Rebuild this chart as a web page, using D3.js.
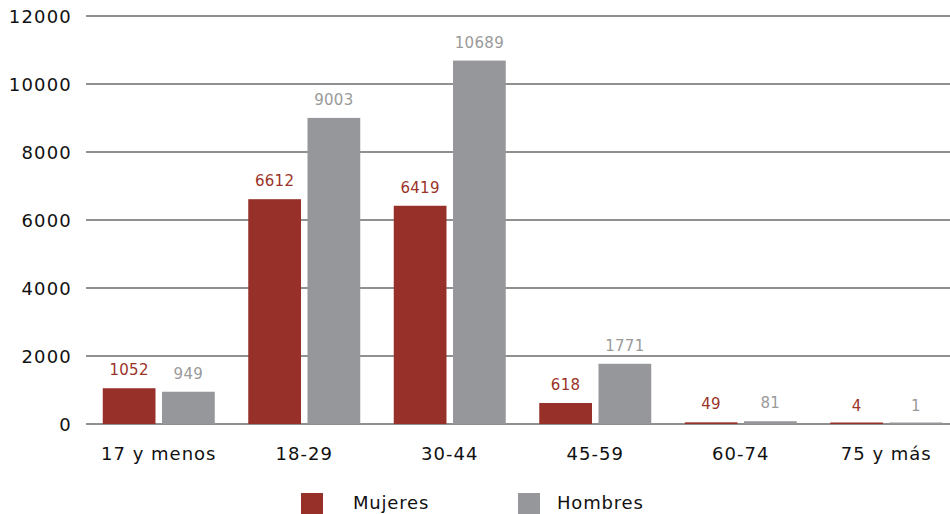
<!DOCTYPE html>
<html><head><meta charset="utf-8">
<script src="https://cdn.jsdelivr.net/npm/d3@7"></script>
<style>body{margin:0;background:#fff}svg{display:block}</style>
</head><body>
<svg id="c" width="950" height="514"></svg>
<script>
const categories = ["17 y menos","18-29","30-44","45-59","60-74","75 y más"];
const mujeres = [1052,6612,6419,618,49,4];
const hombres = [949,9003,10689,1771,81,1];
const seriesNames = ["Mujeres","Hombres"];
const yTicks = [0,2000,4000,6000,8000,10000,12000];

const colors = ["#98302a","#96979b"];
const labelColors = ["#9b3329","#9a9a9a"];
const font = "'DejaVu Sans', sans-serif";

const svg = d3.select("#c");
const x = d3.scaleBand().domain(categories).range([86,959]).paddingInner(0).paddingOuter(0);
const xs = d3.scaleBand().domain(seriesNames).range([x.bandwidth()/2-56, x.bandwidth()/2+56]).paddingInner(0.11);
const y = d3.scaleLinear().domain([0,12000]).range([424,16]);

// grid
svg.append("g").selectAll("line").data(yTicks).join("line")
  .attr("x1",86).attr("x2",950).attr("y1",d=>y(d)).attr("y2",d=>y(d))
  .attr("stroke","#6b6b6b").attr("stroke-width",1.3);
svg.append("g").selectAll("text").data(yTicks).join("text")
  .attr("x",72).attr("y",d=>y(d)+7).attr("text-anchor","end")
  .attr("font-family",font).attr("font-size",18).attr("letter-spacing",1.2).attr("fill","#111").text(d=>d);

const data = categories.map((c,i)=>({c, vals:[mujeres[i],hombres[i]]}));
const g = svg.append("g").selectAll("g").data(data).join("g")
  .attr("transform",d=>`translate(${x(d.c)},0)`);
const minH = 1.5;
g.selectAll("rect").data(d=>d.vals.map((v,j)=>({v,j}))).join("rect")
  .attr("x",d=>xs(seriesNames[d.j])).attr("width",xs.bandwidth())
  .attr("y",d=>y(0)-Math.max(minH,y(0)-y(d.v))).attr("height",d=>Math.max(minH,y(0)-y(d.v)))
  .attr("fill",d=>colors[d.j]);
g.selectAll("text").data(d=>d.vals.map((v,j)=>({v,j}))).join("text")
  .attr("x",d=>xs(seriesNames[d.j])+xs.bandwidth()/2)
  .attr("y",d=>y(d.v)-13)
  .attr("text-anchor","middle").attr("font-family",font).attr("font-size",15).attr("letter-spacing",0.3)
  .attr("fill",d=>labelColors[d.j]).text(d=>d.v);

// x labels
svg.append("g").selectAll("text").data(categories).join("text")
  .attr("x",d=>x(d)+x.bandwidth()/2).attr("y",460).attr("text-anchor","middle")
  .attr("font-family",font).attr("font-size",18).attr("letter-spacing",1).attr("fill","#111").text(d=>d);

// legend
const leg = [{n:"Mujeres",sx:301,tx:353},{n:"Hombres",sx:518,tx:557}];
leg.forEach((l,i)=>{
  svg.append("rect").attr("x",l.sx).attr("y",493).attr("width",22).attr("height",22).attr("fill",colors[i]);
  svg.append("text").attr("x",l.tx).attr("y",509).attr("font-family",font).attr("font-size",18).attr("letter-spacing",0.8).attr("fill","#111").text(l.n);
});
</script>
</body></html>
